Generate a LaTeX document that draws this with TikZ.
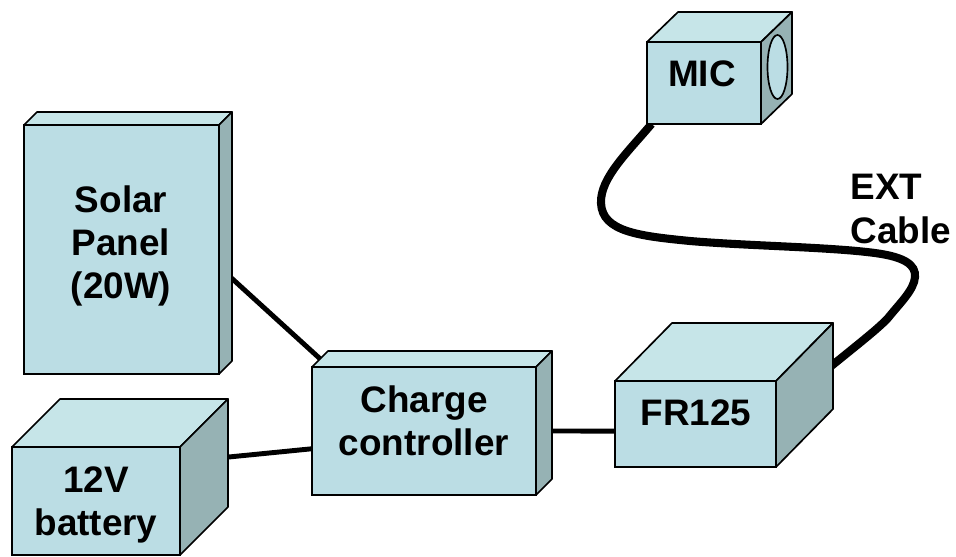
\documentclass[tikz,border=0pt]{standalone}
\usepackage{fontspec}
\setmainfont{Liberation Sans}
\usetikzlibrary{backgrounds}
\usetikzlibrary{calc}
\usetikzlibrary{shapes.geometric}
\definecolor{frontblue}{HTML}{BBDDE4}
\definecolor{topblue}{HTML}{C6E5E8}
\definecolor{sideblue}{HTML}{96B2B4}
\tikzset{
  facefront/.style={draw=black, line width=0.95pt, fill=frontblue, inner sep=0pt, outer sep=0pt},
  facetop/.style={draw=black, line width=0.95pt, fill=topblue, line join=round},
  faceside/.style={draw=black, line width=0.95pt, fill=sideblue, line join=round},
  boxlabel/.style={font=\fontsize{21}{24.6}\selectfont\bfseries, align=center, inner sep=0pt},
  wire/.style={draw=black, line width=2.8pt},
  cable/.style={draw=black, line width=4.6pt}
}
% name, left, top, right, bottom, depth x, depth y
\newcommand{\threedbox}[7]{
  \node (#1) at ({(#2+#4)/2}, {(#3+#5)/2}) [facefront,
    minimum width={(#4-#2)*0.02cm}, minimum height={(#5-#3)*0.02cm}] {};
  \draw[facetop] (#1.north west) -- ++(#6, -#7) -- ($(#1.north east)+(#6, -#7)$) -- (#1.north east) -- cycle;
  \draw[faceside] (#1.north east) -- ++(#6, -#7) -- ($(#1.south east)+(#6, -#7)$) -- (#1.south east) -- cycle;
}

\begin{document}
\begin{tikzpicture}[x=0.02cm, y=-0.02cm]
      \useasboundingbox (0, 0) rectangle (956, 556);

      \threedbox{solar}{24}{125}{219}{374}{13}{13}
      \threedbox{battery}{12}{447}{180}{555}{48}{48}
      \threedbox{charge}{312}{367}{536}{495}{16}{16}
      \threedbox{fr}{615}{381}{776}{467}{57}{58}
      \threedbox{mic}{647}{42}{761}{124}{31}{30}

      \node (lens) at (777.5, 67) [draw=black, line width=0.95pt, fill=frontblue, ellipse, minimum width=0.40cm, minimum height=1.28cm, inner sep=0pt] {};

      \node (solartext) at (121, 246) [boxlabel] {Solar\\Panel\\(20W)};
      \node (batterytext) at (96, 505) [boxlabel] {12V\\battery};
      \node (chargetext) at (424, 421) [boxlabel] {Charge\\controller};
      \node (frtext) at (696, 413) [boxlabel] {FR125};
      \node (mictext) at (702, 74) [boxlabel] {MIC};
      \node (cabletext) at (901, 209) [boxlabel, align=left] {EXT\\Cable};

      \begin{scope}[on background layer]
        \draw[wire] (solar.-10.2) -- (charge.146.4);
        \draw[wire] (battery.25.1) -- (charge.189.1);
        \draw[wire] (charge.-0.5) -- (fr.185.7);
        \draw[cable] (mic.218.8) .. controls (628, 152) and (600, 178) .. (601, 203)
          .. controls (602, 232) and (640, 236) .. (690, 241)
          .. controls (750, 246) and (830, 247) .. (875, 253)
          .. controls (905, 257) and (916, 265) .. (915, 277)
          .. controls (914, 290) and (900, 303) .. (888, 318)
          .. controls (875, 332) and (850, 350) .. (fr.9.9);
      \end{scope}
    \end{tikzpicture}
\end{document}
